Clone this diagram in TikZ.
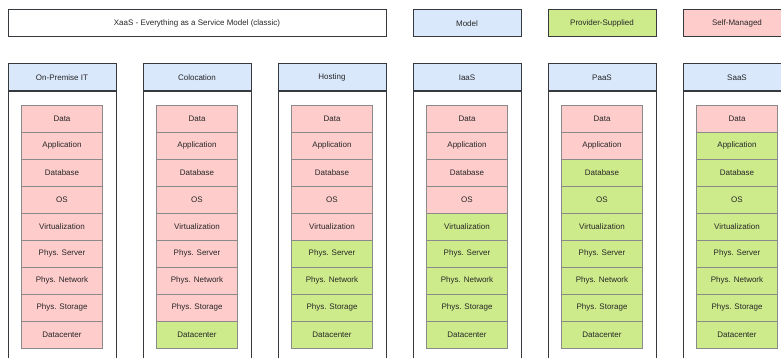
\documentclass[tikz,border=0pt]{standalone}
\usepackage{fontspec}
\setmainfont{Liberation Sans}
\definecolor{hdrblue}{HTML}{DAE8FC}
\definecolor{provgreen}{HTML}{CDEB8B}
\definecolor{selfred}{HTML}{FFCCCC}
\definecolor{strokedark}{HTML}{36393D}
\definecolor{cellstroke}{HTML}{8A8A8A}
\begin{document}
\begin{tikzpicture}[x=1pt,y=-1pt,
  box/.style={draw=strokedark,line width=1pt,inner sep=0pt,font=\fontsize{8}{9.6}\selectfont,text=black!85},
  legend/.style={box,minimum width=108pt,minimum height=27pt},
  colhead/.style={box,fill=hdrblue,minimum width=108pt,minimum height=27pt},
  colbody/.style={box,minimum width=108pt,minimum height=280pt},
  cellbox/.style={draw=cellstroke,line width=0.8pt,inner sep=0pt,minimum width=81pt,minimum height=27pt,font=\fontsize{8}{9.6}\selectfont,text=black!85},
  selfcell/.style={cellbox,fill=selfred},
  provcell/.style={cellbox,fill=provgreen}]
\useasboundingbox (0,0) rectangle (781,358);
\clip (0,0) rectangle (781,358);
\node[box,minimum width=378pt,minimum height=27pt] (title) at (197,23.5) {XaaS - Everything as a Service Model (classic)};
\node[legend,fill=hdrblue] (lmodel) at (467,23.5) {Model};
\node[legend,fill=provgreen] (lprov) at (602,23.5) {Provider-Supplied};
\node[legend,fill=selfred] (lself) at (737,23.5) {Self-Managed};
\foreach \i/\name/\nred in {0/On-Premise IT/9,1/Colocation/8,2/Hosting/5,3/IaaS/4,4/PaaS/2,5/SaaS/1}{
  \pgfmathsetmacro{\cx}{62+135*\i}
  \node[colbody,anchor=north] (body\i) at (\cx,91) {};
  \node[colhead] (head\i) at (\cx,77.5) {\name};
  \foreach \r/\lab in {1/Data,2/Application,3/Database,4/OS,5/Virtualization,6/Phys. Server,7/Phys. Network,8/Phys. Storage,9/Datacenter}{
    \pgfmathsetmacro{\cy}{105+27*\r-13.5}
    \ifnum\r>\nred
      \node[provcell] (cell\i-\r) at (\cx,\cy) {\lab};
    \else
      \node[selfcell] (cell\i-\r) at (\cx,\cy) {\lab};
    \fi
  }
}
\end{tikzpicture}
\end{document}
